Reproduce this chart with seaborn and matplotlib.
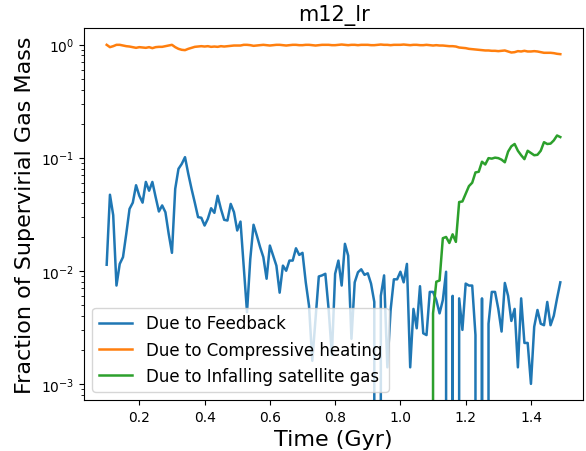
import numpy as np
import pandas as pd
import matplotlib
matplotlib.use("Agg")
import matplotlib.pyplot as plt
import seaborn as sns

# ---- data ----
time_gyr = [
    0.10, 0.11, 0.12, 0.13, 0.14, 0.15, 0.16, 0.17, 0.18, 0.19,
    0.20, 0.21, 0.22, 0.23, 0.24, 0.25, 0.26, 0.27, 0.28, 0.29,
    0.30, 0.31, 0.32, 0.33, 0.34, 0.35, 0.36, 0.37, 0.38, 0.39,
    0.40, 0.41, 0.42, 0.43, 0.44, 0.45, 0.46, 0.47, 0.48, 0.49,
    0.50, 0.51, 0.52, 0.53, 0.54, 0.55, 0.56, 0.57, 0.58, 0.59,
    0.60, 0.61, 0.62, 0.63, 0.64, 0.65, 0.66, 0.67, 0.68, 0.69,
    0.70, 0.71, 0.72, 0.73, 0.74, 0.75, 0.76, 0.77, 0.78, 0.79,
    0.80, 0.81, 0.82, 0.83, 0.84, 0.85, 0.86, 0.87, 0.88, 0.89,
    0.90, 0.91, 0.92, 0.93, 0.94, 0.95, 0.96, 0.97, 0.98, 0.99,
    1.00, 1.01, 1.02, 1.03, 1.04, 1.05, 1.06, 1.07, 1.08, 1.09,
    1.10, 1.11, 1.12, 1.13, 1.14, 1.15, 1.16, 1.17, 1.18, 1.19,
    1.20, 1.21, 1.22, 1.23, 1.24, 1.25, 1.26, 1.27, 1.28, 1.29,
    1.30, 1.31, 1.32, 1.33, 1.34, 1.35, 1.36, 1.37, 1.38, 1.39,
    1.40, 1.41, 1.42, 1.43, 1.44, 1.45, 1.46, 1.47, 1.48, 1.49,
]

feedback = [
    0.0113, 0.047, 0.031, 0.0074, 0.0115, 0.0132, 0.0212, 0.0352, 0.040, 0.057,
    0.046, 0.040, 0.061, 0.051, 0.061, 0.0448, 0.0334, 0.0378, 0.0329, 0.0212,
    0.0144, 0.053, 0.0796, 0.088, 0.101, 0.072, 0.053, 0.040, 0.0298, 0.0294,
    0.0251, 0.0288, 0.0357, 0.0325, 0.046, 0.0352, 0.0282, 0.0278, 0.039, 0.033,
    0.0227, 0.0272, 0.0108, 0.0043, 0.0127, 0.0255, 0.0205, 0.0162, 0.0132, 0.0085,
    0.0167, 0.0136, 0.0111, 0.0064, 0.0111, 0.0100, 0.0123, 0.0123, 0.0158, 0.0138,
    0.0144, 0.0079, 0.0049, 0.0016, 0.0038, 0.0089, 0.0091, 0.0094, 0.0046, 0.0018,
    0.0094, 0.0123, 0.0074, 0.0173, 0.0136, 0.0025, 0.0079, 0.0097, 0.0103, 0.0092,
    0.0095, 0.0077, 0.0053, 0.0, 0.0060, 0.0091, 0.0014, 0.0045, 0.0084, 0.0084,
    0.0098, 0.0079, 0.0115, 0.0014, 0.0046, 0.0031, 0.0073, 0.0028, 0.0027, 0.0065,
    0.0065, 0.0055, 0.0042, 0.0055, 0.0098, 0.0, 0.0060, 0.0, 0.0057, 0.0030,
    0.0077, 0.0074, 0.0074, 0.0027, 0.0, 0.0057, 0.0, 0.0034, 0.0065, 0.0065,
    0.0046, 0.0029, 0.0078, 0.0060, 0.0036, 0.0046, 0.0014, 0.0057, 0.0023, 0.0023,
    0.0010, 0.0032, 0.0045, 0.0034, 0.0033, 0.0053, 0.0033, 0.0040, 0.0057, 0.0079,
]

compressive = [
    0.994, 0.948, 0.967, 0.994, 0.994, 0.980, 0.967, 0.960, 0.948, 0.935,
    0.948, 0.941, 0.935, 0.948, 0.929, 0.948, 0.954, 0.954, 0.967, 0.980,
    0.994, 0.948, 0.916, 0.898, 0.892, 0.916, 0.935, 0.954, 0.960, 0.967,
    0.960, 0.967, 0.954, 0.960, 0.954, 0.967, 0.960, 0.967, 0.974, 0.980,
    0.980, 0.980, 0.994, 0.994, 0.987, 0.974, 0.980, 0.987, 0.994, 0.987,
    0.980, 0.987, 0.994, 0.994, 0.987, 0.980, 0.987, 0.994, 0.994, 0.987,
    0.987, 0.994, 0.994, 0.987, 0.980, 0.987, 0.994, 0.994, 0.994, 0.987,
    0.987, 0.994, 1.000, 0.994, 0.987, 0.994, 0.994, 0.987, 0.994, 0.994,
    0.994, 0.987, 0.987, 0.994, 1.000, 0.994, 0.994, 0.987, 0.994, 0.994,
    0.994, 1.000, 0.994, 0.987, 0.994, 0.994, 0.987, 0.987, 0.994, 0.987,
    0.980, 0.987, 0.980, 0.980, 0.974, 0.967, 0.967, 0.960, 0.941, 0.935,
    0.929, 0.916, 0.910, 0.904, 0.898, 0.892, 0.886, 0.886, 0.880, 0.880,
    0.874, 0.880, 0.886, 0.868, 0.850, 0.856, 0.874, 0.868, 0.880, 0.868,
    0.868, 0.874, 0.868, 0.856, 0.845, 0.845, 0.845, 0.839, 0.828, 0.822,
]

satellite = [0.0] * 100 + [
    0.0042, 0.0080, 0.0082, 0.0194, 0.0199, 0.0176, 0.0210, 0.0180, 0.0405, 0.0410,
    0.048, 0.056, 0.060, 0.074, 0.075, 0.092, 0.087, 0.099, 0.098, 0.100,
    0.099, 0.096, 0.091, 0.113, 0.126, 0.132, 0.115, 0.105, 0.097, 0.115,
    0.110, 0.105, 0.106, 0.115, 0.137, 0.132, 0.133, 0.142, 0.157, 0.152,
]

series_labels = ["Due to Feedback", "Due to Compressive heating", "Due to Infalling satellite gas"]
series_colors = ["#1f77b4", "#ff7f0e", "#2ca02c"]
series_values = [feedback, compressive, satellite]

print(len(time_gyr), len(feedback), len(compressive), len(satellite))

# ---- figure ----
fig, ax = plt.subplots(figsize=(5.86, 4.52), dpi=100)
fig.subplots_adjust(left=84 / 586, right=583 / 586, top=1 - 29 / 452, bottom=1 - 401 / 452)

for lab, col, vals in zip(series_labels, series_colors, series_values):
    df = pd.DataFrame({"time": time_gyr, "frac": vals})
    sns.lineplot(data=df, x="time", y="frac", color=col, label=lab,
                 linewidth=1.8, errorbar=None, ax=ax)

ax.set_yscale("log")
ax.set_ylim(7.2e-4, 1.4)
ax.set_xlim(0.0305, 1.5595)

ax.set_title("m12_lr", fontsize=15)
ax.set_xlabel("Time (Gyr)", fontsize=16)
ax.set_ylabel("Fraction of Supervirial Gas Mass", fontsize=16)
ax.legend(loc="lower left", fontsize=12)

fig.savefig("out.png", dpi=100)
